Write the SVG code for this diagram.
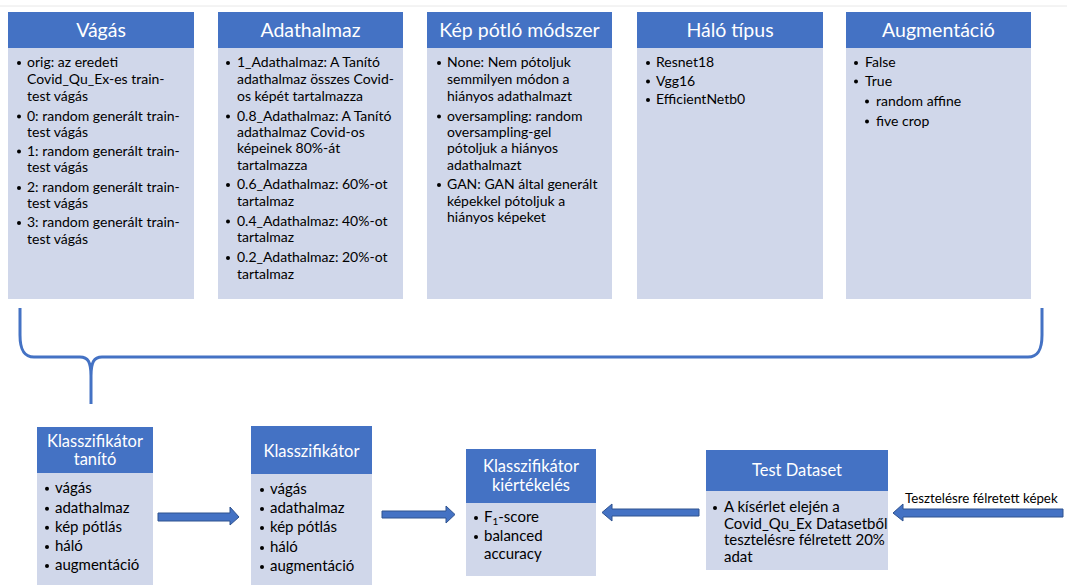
<svg xmlns="http://www.w3.org/2000/svg" width="1067" height="585" viewBox="0 0 1067 585">
<style>
.hd{fill:#4472C4}
.bd{fill:#D0D7EA}
.ht{font-family:Lato,"Liberation Sans",sans-serif;fill:#fff;text-anchor:middle}
.t20{font-size:19.5px}
.t16{font-size:16.5px}
.tx{font-family:Lato,"Liberation Sans",sans-serif;fill:#000;font-size:14px}
.tb{font-family:Lato,"Liberation Sans",sans-serif;fill:#000;font-size:15px}
.lbl{font-family:Lato,"Liberation Sans",sans-serif;fill:#000;font-size:13.3px}
.bul{fill:#000}
.arr{fill:#4472C4;stroke:#2F528F;stroke-width:1}
.brace{fill:none;stroke:#4472C4;stroke-width:3;stroke-linejoin:round}
</style>
<rect width="1067" height="585" fill="#fff"/>
<line x1="0" y1="6" x2="1067" y2="6" stroke="#E8E8E8" stroke-width="1"/>

<g id="vagas">
<rect class="bd" x="8" y="47" width="186" height="252"/>
<rect class="hd" x="8" y="12" width="186" height="36"/>
<text class="ht t20" x="101" y="37">Vágás</text>
<g class="bul"><circle cx="19" cy="63" r="2"/><circle cx="19" cy="116.5" r="2"/><circle cx="19" cy="151.5" r="2"/><circle cx="19" cy="188" r="2"/><circle cx="19" cy="223" r="2"/></g>
<text class="tx"><tspan x="27" y="67">orig: az eredeti</tspan><tspan x="27" y="83.8">Covid_Qu_Ex-es train-</tspan><tspan x="27" y="100.5">test vágás</tspan><tspan x="27" y="120.5">0: random generált train-</tspan><tspan x="27" y="136.5">test vágás</tspan><tspan x="27" y="155.5">1: random generált train-</tspan><tspan x="27" y="172">test vágás</tspan><tspan x="27" y="192">2: random generált train-</tspan><tspan x="27" y="208">test vágás</tspan><tspan x="27" y="227">3: random generált train-</tspan><tspan x="27" y="243.8">test vágás</tspan></text>
</g>

<g id="adathalmaz">
<rect class="bd" x="218" y="47" width="185" height="252"/>
<rect class="hd" x="218" y="12" width="185" height="36"/>
<text class="ht t20" x="310.5" y="37">Adathalmaz</text>
<g class="bul"><circle cx="228" cy="63" r="2"/><circle cx="228" cy="116.5" r="2"/><circle cx="228" cy="185" r="2"/><circle cx="228" cy="221.5" r="2"/><circle cx="228" cy="258" r="2"/></g>
<text class="tx"><tspan x="237" y="67">1_Adathalmaz: A Tanító</tspan><tspan x="237" y="83.8">adathalmaz összes Covid-</tspan><tspan x="237" y="100.5">os képét tartalmazza</tspan><tspan x="237" y="120.5">0.8_Adathalmaz: A Tanító</tspan><tspan x="237" y="136.5">adathalmaz Covid-os</tspan><tspan x="237" y="153">képeinek 80%-át</tspan><tspan x="237" y="169.8">tartalmazza</tspan><tspan x="237" y="188.8">0.6_Adathalmaz: 60%-ot</tspan><tspan x="237" y="205.5">tartalmaz</tspan><tspan x="237" y="225.5">0.4_Adathalmaz: 40%-ot</tspan><tspan x="237" y="242">tartalmaz</tspan><tspan x="237" y="262">0.2_Adathalmaz: 20%-ot</tspan><tspan x="237" y="278.8">tartalmaz</tspan></text>
</g>

<g id="kep-potlo">
<rect class="bd" x="427" y="47" width="185" height="252"/>
<rect class="hd" x="427" y="12" width="185" height="36"/>
<text class="ht t20" x="519.5" y="37">Kép pótló módszer</text>
<g class="bul"><circle cx="439" cy="63" r="2"/><circle cx="439" cy="116.5" r="2"/><circle cx="439" cy="185" r="2"/></g>
<text class="tx"><tspan x="447" y="67">None: Nem pótoljuk</tspan><tspan x="447" y="83.8">semmilyen módon a</tspan><tspan x="447" y="100.5">hiányos adathalmazt</tspan><tspan x="447" y="120.5">oversampling: random</tspan><tspan x="447" y="136.5">oversampling-gel</tspan><tspan x="447" y="153">pótoljuk a hiányos</tspan><tspan x="447" y="169.8">adathalmazt</tspan><tspan x="447" y="188.8">GAN: GAN által generált</tspan><tspan x="447" y="205.5">képekkel pótoljuk a</tspan><tspan x="447" y="222">hiányos képeket</tspan></text>
</g>

<g id="halo-tipus">
<rect class="bd" x="637" y="47" width="186" height="252"/>
<rect class="hd" x="637" y="12" width="186" height="36"/>
<text class="ht t20" x="730" y="37">Háló típus</text>
<g class="bul"><circle cx="648" cy="63" r="2"/><circle cx="648" cy="81.5" r="2"/><circle cx="648" cy="100" r="2"/></g>
<text class="tx"><tspan x="656" y="67">Resnet18</tspan><tspan x="656" y="85.5">Vgg16</tspan><tspan x="656" y="104">EfficientNetb0</tspan></text>
</g>

<g id="augmentacio">
<rect class="bd" x="846" y="47" width="185" height="252"/>
<rect class="hd" x="846" y="12" width="185" height="36"/>
<text class="ht t20" x="938.5" y="37">Augmentáció</text>
<g class="bul"><circle cx="856" cy="63" r="2"/><circle cx="856" cy="81.5" r="2"/><circle cx="867" cy="101.5" r="2"/><circle cx="867" cy="121.5" r="2"/></g>
<text class="tx"><tspan x="865" y="67">False</tspan><tspan x="865" y="85.5">True</tspan><tspan x="876" y="105.5">random affine</tspan><tspan x="876" y="125.5">five crop</tspan></text>
</g>

<g id="connectors">
<path class="brace" d="M20,308 L20,335 C20,350 24,357 34,357 L80,357 C88,357 91,362 91,376 L91,404 M91,376 C91,362 94,357 102,357 L1028,357 C1038,357 1042,350 1042,335 L1042,308"/>
<polygon class="arr" points="158,513 230,513 230,507 239,517 230,525 230,521 158,521"/>
<polygon class="arr" points="382,511 446,511 446,506 455,514.5 446,523 446,518 382,518"/>
<polygon class="arr" points="699,509 612,509 612,504 602,512.5 612,521 612,516 699,516"/>
<polygon class="arr" points="1063,509 903,509 903,504 893,513 903,521 903,517 1063,517"/>
<text class="lbl" x="905" y="503">Tesztelésre félretett képek</text>
</g>

<g id="klasszifikator-tanito">
<rect class="bd" x="37" y="473" width="116" height="112"/>
<rect class="hd" x="37" y="427" width="116" height="46"/>
<text class="ht t16"><tspan x="95" y="446.5">Klasszifikátor</tspan><tspan x="95" y="465">tanító</tspan></text>
<g class="bul"><circle cx="47" cy="488.7" r="2"/><circle cx="47" cy="508.7" r="2"/><circle cx="47" cy="527.7" r="2"/><circle cx="47" cy="547" r="2"/><circle cx="47" cy="566" r="2"/></g>
<text class="tb"><tspan x="55" y="492.7">vágás</tspan><tspan x="55" y="512.7">adathalmaz</tspan><tspan x="55" y="531.7">kép pótlás</tspan><tspan x="55" y="551">háló</tspan><tspan x="55" y="570">augmentáció</tspan></text>
</g>

<g id="klasszifikator">
<rect class="bd" x="251" y="474" width="121" height="111"/>
<rect class="hd" x="251" y="426" width="121" height="48"/>
<text class="ht t16" x="311.5" y="456.5">Klasszifikátor</text>
<g class="bul"><circle cx="262" cy="490" r="2"/><circle cx="262" cy="509" r="2"/><circle cx="262" cy="528" r="2"/><circle cx="262" cy="548" r="2"/><circle cx="262" cy="567" r="2"/></g>
<text class="tb"><tspan x="270" y="494">vágás</tspan><tspan x="270" y="513">adathalmaz</tspan><tspan x="270" y="532">kép pótlás</tspan><tspan x="270" y="552">háló</tspan><tspan x="270" y="571">augmentáció</tspan></text>
</g>

<g id="klasszifikator-kiertekeles">
<rect class="bd" x="466" y="503" width="130" height="73"/>
<rect class="hd" x="466" y="449" width="130" height="54"/>
<text class="ht t16"><tspan x="531" y="471.5">Klasszifikátor</tspan><tspan x="531" y="491">kiértékelés</tspan></text>
<g class="bul"><circle cx="476" cy="518" r="2"/><circle cx="476" cy="537" r="2"/></g>
<text class="tb"><tspan x="484" y="522">F<tspan font-size="10" dy="3">1</tspan><tspan dy="-3">-score</tspan></tspan><tspan x="484" y="541">balanced</tspan><tspan x="484" y="559">accuracy</tspan></text>
</g>

<g id="test-dataset">
<rect class="bd" x="706" y="491" width="182" height="79"/>
<rect class="hd" x="706" y="450" width="182" height="41"/>
<text class="ht t16" x="797" y="476">Test Dataset</text>
<circle class="bul" cx="715" cy="508" r="2"/>
<text class="tb"><tspan x="724" y="512">A kísérlet elején a</tspan><tspan x="724" y="528.7">Covid_Qu_Ex Datasetből</tspan><tspan x="724" y="545.3">tesztelésre félretett 20%</tspan><tspan x="724" y="562">adat</tspan></text>
</g>
</svg>
